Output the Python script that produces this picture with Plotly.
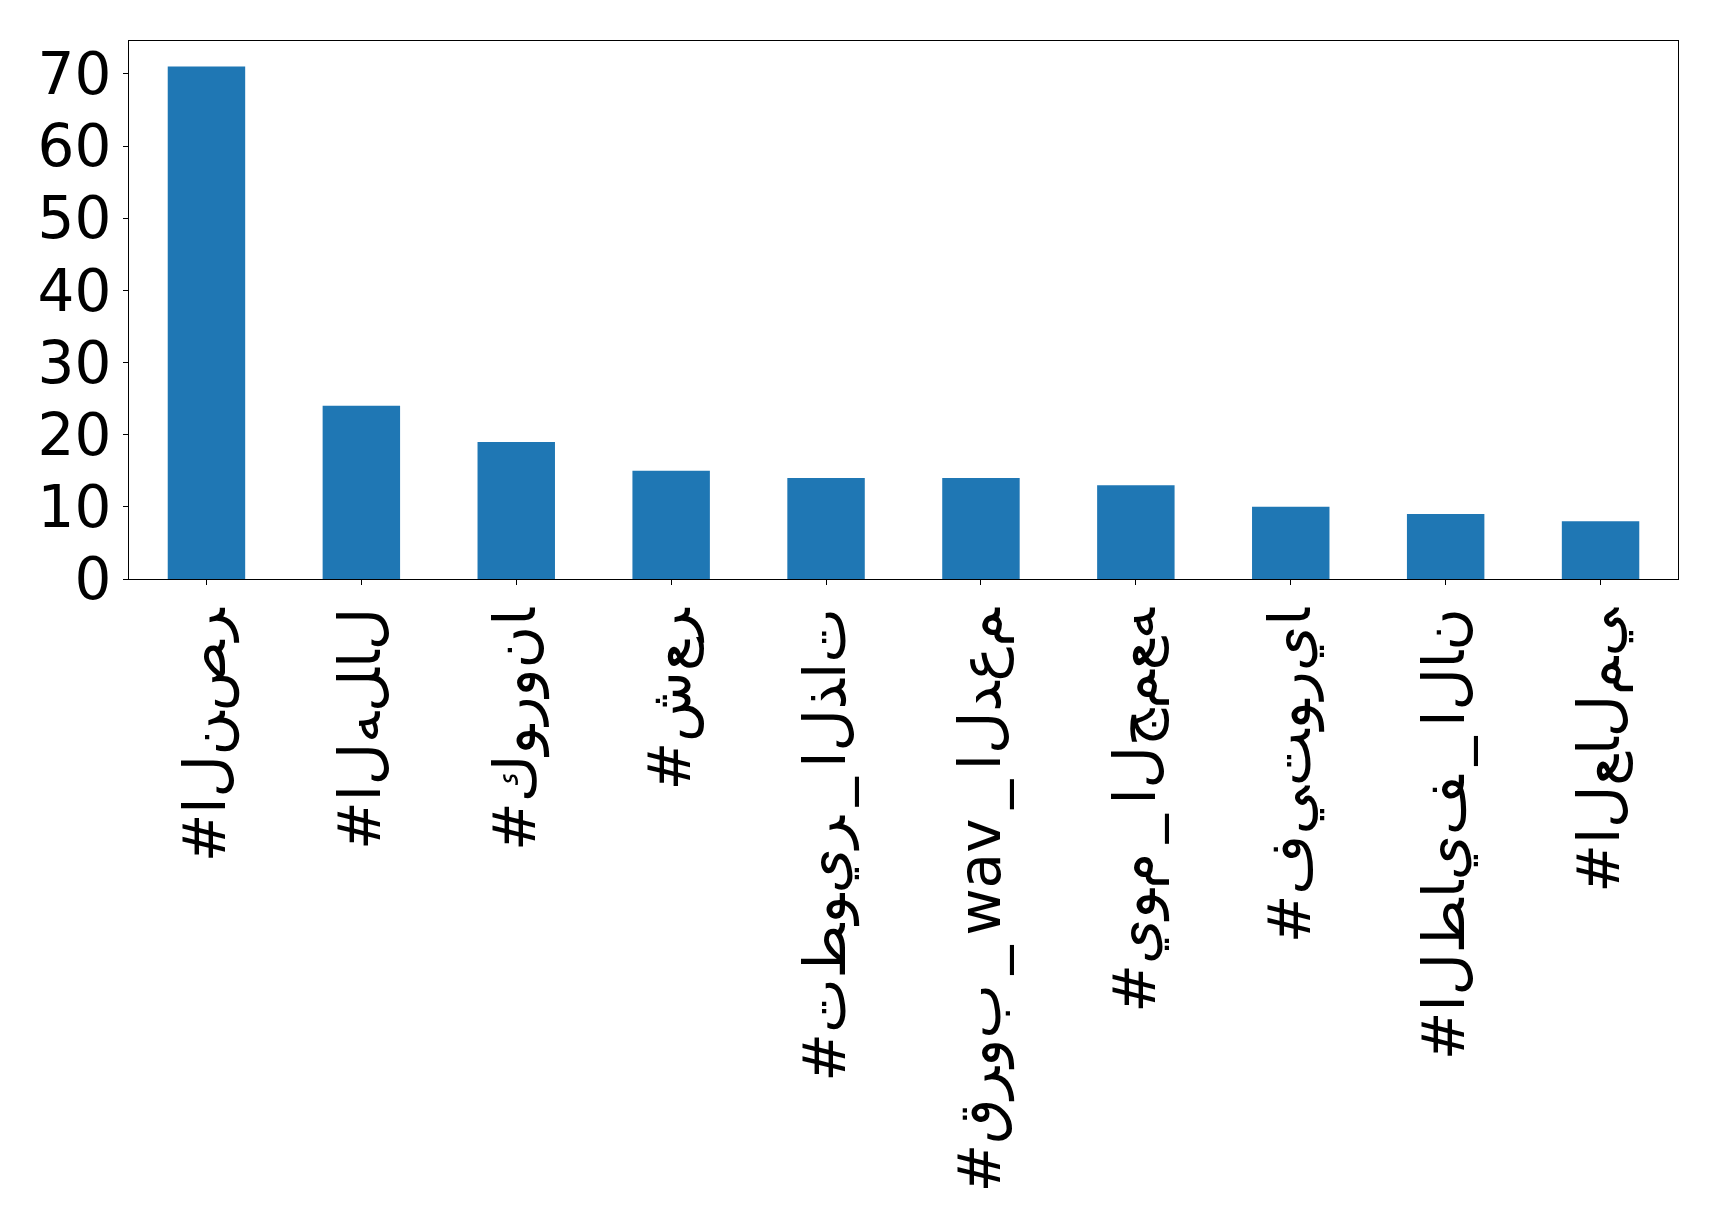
import plotly.graph_objects as go

categories = ["#النصر", "#الهلال", "#كورونا", "#شعر", "#تطوير_الذات",
              "#قروب_wav_الدعم", "#يوم_الجمعه", "#فيتوريا", "#الطايف_الان", "#العالمي"]
counts = [71, 24, 19, 15, 14, 14, 13, 10, 9, 8]
y_ticks = [0, 10, 20, 30, 40, 50, 60, 70]

ZWNJ = "\u200c"
LRO = "\u202d"
PDF = "\u202c"
SP = "\u2006"

def unshaped(s):
    # render letters isolated, left-to-right (as in the reference image)
    parts = []
    for ch in s:
        parts.append(SP + ch + SP if ch == "_" else ch)
    return LRO + ZWNJ.join(parts) + PDF

x_pos = list(range(len(categories)))
tick_text = [unshaped(c) for c in categories]

fig = go.Figure()
fig.add_trace(go.Bar(x=x_pos, y=counts, width=0.5, marker=dict(color="#1f77b4", line=dict(width=0))))

font = dict(family="DejaVu Sans", size=58, color="black")
fig.update_layout(
    width=1719, height=1232,
    margin=dict(l=121, r=49, t=33, b=661),
    paper_bgcolor="white", plot_bgcolor="white",
    showlegend=False,
    font=font,
)
fig.update_xaxes(
    range=[-0.5, 9.5], tickmode="array", tickvals=x_pos, ticktext=tick_text,
    tickangle=-90, ticks="outside", ticklen=5, tickwidth=1, tickcolor="black",
    showline=True, linecolor="black", linewidth=1, mirror=True,
    showgrid=False, zeroline=False, automargin=False, tickfont=font,
)
fig.update_yaxes(
    range=[0, 74.55], tickmode="array", tickvals=y_ticks, ticktext=[str(v) for v in y_ticks],
    ticks="outside", ticklen=5, tickwidth=1, tickcolor="black",
    showline=True, linecolor="black", linewidth=1, mirror=True,
    showgrid=False, zeroline=False, automargin=False, tickfont=font,
)
fig.write_html("out.html")
